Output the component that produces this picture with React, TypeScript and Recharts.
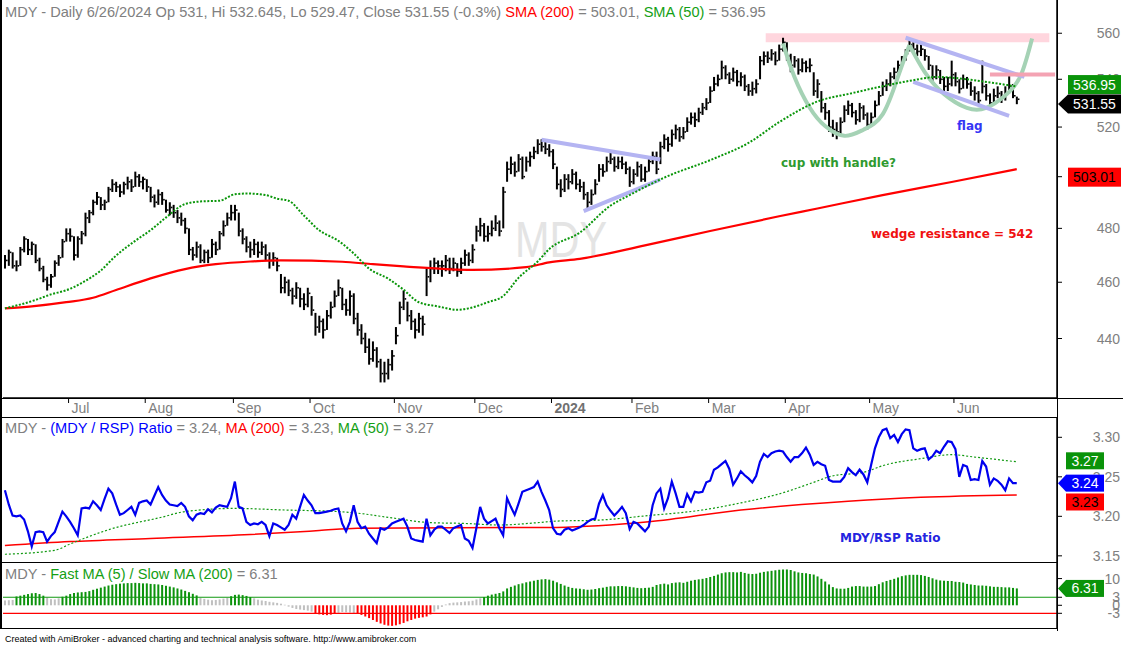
import React from 'react';
import { ComposedChart, Bar, Line, XAxis, YAxis, ReferenceLine, ReferenceArea } from 'recharts';

const FONT = '"Liberation Sans", Arial, sans-serif';
const NOTE_FONT = '"DejaVu Sans", Verdana, sans-serif';
const GREY = '#808080';
const GREEN = '#14a014';

// MDY daily bars, 6/7/2023 .. 6/26/2024 (index = trading day)
const closes = [
  468, 471, 466, 466, 472, 476, 472, 474, 468, 465,
  461, 459, 462, 467, 469, 475, 478, 477, 470, 476,
  478, 484, 486, 490, 492, 489, 490, 495, 497, 496,
  494, 497, 498, 496, 500, 498, 499, 496, 492, 490,
  493, 491, 487, 488, 486, 484, 483, 480, 472, 470,
  473, 468, 471, 469, 474, 472, 478, 481, 484, 486,
  487, 479, 476, 473, 472, 474, 471, 473, 470, 468,
  469, 466, 458, 460, 457, 455, 458, 454, 452, 456,
  450, 444, 446, 443, 448, 451, 455, 458, 452, 450,
  455, 447, 443, 440, 437, 433, 436, 432, 428, 428,
  431, 434, 441, 451, 454, 448, 446, 443, 447, 445,
  462, 465, 467, 466, 466, 468, 465, 467, 464, 467,
  470, 468, 472, 479, 481, 477, 478, 480, 482, 479,
  494, 503, 505, 502, 507, 500, 506, 508, 510, 513,
  512, 511, 510, 505, 497, 495, 499, 498, 501, 497,
  496, 493, 490, 493, 497, 503, 502, 506, 507, 504,
  506, 505, 503, 498, 501, 504, 499, 502, 506, 508,
  503, 512, 515, 513, 517, 519, 516, 518, 522, 524,
  523, 526, 528, 530, 535, 538, 540, 545, 542, 540,
  543, 539, 541, 537, 535, 536, 538, 548, 550, 549,
  551, 548, 553, 556, 550, 546, 548, 544, 547, 545,
  546, 535, 538, 528, 526, 520, 519, 518, 522, 527,
  529, 526, 523, 528, 525, 521, 524, 529, 533, 537,
  538, 541, 543, 546, 548, 551, 555, 553, 552, 553,
  550, 546, 541, 544, 540, 537, 538, 542, 539, 536,
  540, 538, 535, 534, 531, 537, 533, 530, 533, 534,
  532, 534, 537, 533, 531.55,
];

const highs = [
  470, 472, 471, 468, 473, 477, 476, 475, 474, 469,
  466, 462, 463, 468, 470, 476, 480, 480, 477, 477,
  479, 486, 487, 491, 494, 492, 491, 496, 499, 498,
  497, 498, 500, 499, 502, 501, 500, 499, 496, 493,
  495, 494, 491, 490, 489, 487, 486, 484, 480, 473,
  475, 474, 472, 472, 476, 475, 479, 483, 486, 489,
  489, 486, 480, 477, 475, 476, 475, 475, 474, 471,
  471, 469, 463, 462, 461, 458, 460, 458, 456, 458,
  455, 449, 448, 447, 450, 453, 457, 461, 458, 454,
  457, 456, 449, 445, 442, 440, 439, 437, 433, 432,
  433, 436, 444, 453, 457, 453, 450, 447, 449, 448,
  465, 468, 469, 468, 468, 470, 469, 469, 467, 469,
  472, 471, 474, 481, 484, 482, 481, 483, 485, 483,
  496, 506, 508, 506, 509, 508, 508, 510, 512, 515,
  515, 514, 513, 511, 504, 499, 501, 501, 503, 502,
  499, 498, 494, 495, 499, 505, 505, 508, 510, 508,
  508, 508, 506, 504, 503, 506, 505, 504, 508, 510,
  510, 514, 517, 516, 519, 521, 520, 520, 524, 526,
  526, 528, 530, 532, 537, 541, 542, 548, 546, 543,
  545, 544, 543, 542, 538, 539, 540, 550, 552, 552,
  553, 552, 555, 558, 556, 551, 550, 549, 549, 548,
  549, 543, 540, 535, 530, 527, 523, 522, 524, 529,
  531, 530, 527, 530, 529, 526, 526, 531, 535, 539,
  540, 543, 545, 548, 550, 553, 557, 556, 555, 555,
  553, 550, 546, 546, 544, 541, 541, 548, 543, 540,
  542, 541, 539, 537, 535, 548, 538, 534, 536, 537,
  535, 537, 542, 538, 532.645,
];

const lows = [
  465, 466, 465, 464, 466, 471, 470, 470, 467, 464,
  460, 457, 458, 462, 466, 469, 475, 475, 468, 469,
  474, 477, 482, 485, 489, 487, 487, 490, 494, 494,
  492, 493, 495, 494, 496, 496, 495, 494, 490, 488,
  489, 489, 486, 485, 484, 482, 481, 478, 470, 468,
  469, 467, 467, 467, 469, 470, 472, 477, 481, 483,
  483, 477, 474, 471, 469, 470, 469, 470, 468, 465,
  466, 464, 456, 456, 455, 452, 454, 451, 450, 451,
  448, 441, 442, 440, 443, 447, 451, 455, 450, 448,
  448, 445, 441, 438, 435, 431, 432, 430, 425, 425,
  426, 429, 438, 445, 450, 446, 443, 440, 442, 441,
  455, 460, 463, 463, 462, 464, 463, 464, 462, 463,
  466, 466, 467, 475, 477, 475, 475, 477, 479, 477,
  480, 498, 501, 500, 502, 499, 502, 504, 507, 509,
  510, 509, 508, 503, 495, 492, 494, 495, 497, 495,
  494, 491, 487, 489, 493, 498, 500, 502, 505, 502,
  503, 503, 501, 496, 497, 500, 498, 498, 502, 505,
  501, 505, 511, 510, 512, 515, 514, 515, 518, 521,
  520, 522, 525, 527, 530, 535, 537, 540, 540, 538,
  539, 537, 537, 535, 533, 533, 534, 540, 546, 547,
  548, 546, 548, 552, 548, 543, 545, 542, 543, 543,
  543, 533, 532, 526, 523, 518, 516, 515, 517, 522,
  525, 524, 521, 522, 523, 519, 520, 524, 529, 533,
  535, 537, 540, 543, 545, 548, 552, 551, 550, 550,
  548, 544, 539, 540, 538, 535, 535, 537, 537, 534,
  536, 536, 533, 531, 529, 534, 531, 528, 530, 532,
  530, 531, 534, 532, 529.47,
];

// MDY / RSP ratio
const ratio = [
  3.233, 3.215, 3.201, 3.200, 3.201, 3.196, 3.181, 3.162, 3.180, 3.181,
  3.180, 3.168, 3.175, 3.180, 3.193, 3.206, 3.200, 3.193, 3.185, 3.176,
  3.210, 3.211, 3.210, 3.219, 3.214, 3.208, 3.222, 3.235, 3.229, 3.215,
  3.202, 3.204, 3.208, 3.212, 3.202, 3.217, 3.219, 3.220, 3.215, 3.226,
  3.237, 3.227, 3.220, 3.215, 3.214, 3.213, 3.217, 3.212, 3.200, 3.195,
  3.202, 3.204, 3.203, 3.209, 3.205, 3.211, 3.214, 3.213, 3.212, 3.223,
  3.244, 3.212, 3.210, 3.193, 3.189, 3.191, 3.190, 3.193, 3.189, 3.175,
  3.191, 3.189, 3.186, 3.183, 3.189, 3.202, 3.197, 3.212, 3.227, 3.220,
  3.214, 3.204, 3.204, 3.205, 3.206, 3.207, 3.209, 3.210, 3.191, 3.181,
  3.193, 3.214, 3.193, 3.185, 3.187, 3.178, 3.172, 3.166, 3.185, 3.183,
  3.186, 3.191, 3.193, 3.195, 3.197, 3.187, 3.172, 3.170, 3.169, 3.168,
  3.197, 3.176, 3.183, 3.187, 3.187, 3.183, 3.179, 3.185, 3.187, 3.189,
  3.172, 3.169, 3.160, 3.185, 3.212, 3.197, 3.191, 3.194, 3.197, 3.185,
  3.176, 3.223, 3.212, 3.202, 3.216, 3.231, 3.233, 3.235, 3.237, 3.244,
  3.231, 3.220, 3.208, 3.185, 3.178, 3.177, 3.183, 3.185, 3.182, 3.184,
  3.186, 3.189, 3.193, 3.196, 3.197, 3.216, 3.227, 3.214, 3.207, 3.201,
  3.206, 3.212, 3.204, 3.184, 3.193, 3.191, 3.186, 3.181, 3.187, 3.214,
  3.229, 3.235, 3.210, 3.223, 3.244, 3.229, 3.212, 3.212, 3.228, 3.219,
  3.231, 3.230, 3.231, 3.243, 3.245, 3.259, 3.262, 3.266, 3.270, 3.260,
  3.240, 3.248, 3.257, 3.252, 3.248, 3.243, 3.251, 3.269, 3.279, 3.275,
  3.280, 3.282, 3.283, 3.282, 3.275, 3.269, 3.275, 3.275, 3.280, 3.287,
  3.278, 3.265, 3.269, 3.266, 3.264, 3.246, 3.244, 3.244, 3.244, 3.250,
  3.261, 3.256, 3.252, 3.259, 3.253, 3.243, 3.265, 3.286, 3.300, 3.309,
  3.311, 3.299, 3.303, 3.294, 3.304, 3.310, 3.309, 3.286, 3.283, 3.285,
  3.286, 3.272, 3.276, 3.283, 3.280, 3.288, 3.295, 3.294, 3.285, 3.250,
  3.265, 3.263, 3.246, 3.247, 3.246, 3.270, 3.263, 3.240, 3.248, 3.245,
  3.240, 3.233, 3.248, 3.242, 3.242,
];

// Fast MA(5) / Slow MA(200), percent
const fastSlow = [
  1.8, 1.9, 2.0, 3.3, 3.6, 3.9, 4.2, 4.5, 4.6, 4.2,
  3.6, 2.9, 2.3, 2.2, 2.6, 3.2, 3.6, 4.2, 4.6, 4.8,
  4.9, 5.0, 5.3, 5.8, 6.2, 6.6, 7.0, 7.4, 7.7, 7.9,
  8.1, 8.2, 8.3, 8.3, 8.4, 8.3, 8.2, 8.2, 8.0, 7.9,
  7.8, 7.6, 7.3, 7.0, 6.7, 6.3, 5.9, 5.4, 4.9, 4.3,
  3.7, 2.8, 2.4, 2.1, 1.9, 2.0, 2.2, 2.5, 2.8, 3.4,
  3.9, 4.0, 3.8, 3.5, 3.1, 2.6, 2.1, 1.8, 1.6, 1.3,
  1.1, 0.9, 0.6, 0.2, -0.5, -1.0, -1.4, -1.6, -1.8, -2.0,
  -2.4, -3.1, -3.4, -3.6, -3.7, -3.5, -3.2, -2.8, -2.5, -2.6,
  -2.7, -2.9, -3.2, -3.6, -4.2, -4.8, -5.5, -6.2, -6.8, -7.3,
  -7.6, -7.7, -7.5, -7.1, -6.6, -6.0, -5.5, -5.0, -4.7, -4.5,
  -4.2, -3.4, -2.4, -1.5, -0.6, 0.3, 0.8, 1.0, 1.1, 1.2,
  1.4, 1.5, 1.7, 2.2, 2.6, 3.1, 3.6, 4.0, 4.3, 4.6,
  5.2, 6.3, 6.9, 7.4, 7.9, 8.2, 8.6, 8.9, 9.2, 9.5,
  9.7, 9.8, 9.6, 9.2, 8.6, 8.0, 7.4, 6.9, 6.5, 6.3,
  6.2, 6.0, 5.8, 5.9, 6.1, 6.4, 6.6, 6.9, 7.1, 7.1,
  7.2, 7.2, 7.1, 6.9, 6.7, 6.5, 6.4, 6.5, 6.6, 6.9,
  7.6, 7.9, 8.1, 7.8, 8.3, 8.5, 8.6, 8.4, 8.8, 9.2,
  9.5, 9.7, 9.9, 10.2, 10.6, 11.0, 11.5, 12.0, 12.3, 12.4,
  12.4, 12.3, 12.5, 12.1, 11.8, 11.7, 11.8, 12.2, 12.5, 12.7,
  12.9, 13.1, 13.3, 13.4, 13.4, 13.2, 12.7, 12.3, 12.1, 12.0,
  11.7, 11.5, 10.8, 9.9, 8.9, 7.8, 6.8, 6.3, 6.2, 6.2,
  6.5, 7.0, 7.2, 7.2, 7.0, 7.0, 7.0, 7.2, 7.9, 8.6,
  9.1, 9.5, 9.9, 10.4, 10.9, 11.2, 11.4, 11.4, 11.4, 11.3,
  11.0, 10.6, 10.1, 9.6, 9.3, 9.2, 9.1, 9.1, 8.8, 8.7,
  8.5, 8.0, 7.8, 7.6, 7.4, 7.4, 7.3, 7.1, 6.9, 6.9,
  6.8, 6.7, 6.7, 6.5, 6.31,
];

// moving averages read at [bar, value]
const sma200 = [
  [0, 450.6], [7, 451.3], [16, 452.8], [23, 454.4], [29, 457.2], [38, 461.4], [47, 464.8],
  [55, 466.6], [64, 467.6], [72, 468.0], [88, 467.5], [96, 466.6], [104, 465.8], [122, 464.5],
  [136, 465.5], [142, 467.3], [150, 468.6], [167, 473.6], [184, 479.0], [202, 484.6],
  [212, 487.6], [229, 492.8], [247, 497.9], [264, 503.01],
];
const sma50 = [
  [0, 450.6], [8, 453.6], [12, 455.6], [16, 457.1], [20, 459.7], [25, 464.3], [29, 469.8],
  [34, 475.3], [38, 479.3], [42, 484.1], [47, 489.3], [51, 490.3], [56, 490.6], [60, 493.1],
  [63, 493.4], [68, 492.8], [71, 491.4], [74, 490.6], [78, 484.9], [82, 479.3], [87, 475.3],
  [91, 470.6], [95, 465.0], [100, 461.3], [104, 457.3], [108, 452.8], [113, 451.3],
  [118, 450.1], [121, 450.6], [126, 452.8], [130, 455.0], [134, 461.6], [139, 467.6],
  [142, 472.2], [150, 478.4], [158, 488.7], [163, 492.8], [172, 499.6], [185, 507.2],
  [194, 513.5], [202, 522.0], [212, 530.6], [221, 534.1], [230, 537.4], [237, 539.6],
  [243, 541.0], [252, 539.8], [258, 538.4], [264, 536.95],
];
const ratioMa200 = [
  [0, 3.163], [17, 3.168], [38, 3.172], [64, 3.177], [82, 3.182], [92, 3.185], [144, 3.186],
  [168, 3.193], [192, 3.208], [220, 3.219], [239, 3.224], [264, 3.227],
];
const ratioMa50 = [
  [0, 3.152], [13, 3.157], [17, 3.165], [27, 3.183], [41, 3.199], [47, 3.206], [60, 3.210],
  [73, 3.208], [87, 3.206], [92, 3.204], [101, 3.198], [111, 3.192], [120, 3.191],
  [129, 3.189], [139, 3.192], [144, 3.194], [154, 3.195], [168, 3.201], [182, 3.208],
  [192, 3.217], [201, 3.227], [211, 3.243], [215, 3.250], [225, 3.257], [229, 3.264],
  [239, 3.273], [247, 3.278], [253, 3.275], [264, 3.269],
];

// hand-drawn annotations, [bar, price]
const cupLeft = [[203, 555.5], [206, 541], [210, 528], [214, 520.4], [219, 516.4], [224, 518.9], [229, 525.2], [233, 541], [236, 554.8]];
const cupRight = [[236, 554.8], [240, 543.1], [245, 533.8], [251, 527.9], [256, 527.9], [261, 533.1], [265, 541.5], [268, 557.7]];
const triangleTop = [[140, 514.8], [171, 506.8]];
const triangleBottom = [[151, 486.6], [171, 498.9]];
const flagTop = [[235, 558], [266, 541]];
const flagBottom = [[237, 538.9], [262, 524.6]];
const wedgeLine = [[257, 542], [274, 542]];
const resistanceZone = [199, 272, 556, 560];

const monthStarts = [17, 37, 60, 80, 102, 123, 143, 164, 184, 204, 226, 248];
const monthNames = ['Jul', 'Aug', 'Sep', 'Oct', 'Nov', 'Dec', '2024', 'Feb', 'Mar', 'Apr', 'May', 'Jun'];
const priceTicks = [440, 460, 480, 500, 520, 540, 560];
const ratioTicks = [3.15, 3.2, 3.25, 3.3];
const oscTicks = [-3, 0, 3, 10];

const SLOTS = 275; // bars plus blank space on the right

const lookup = (pts: number[][]) => new Map(pts.map(([i, v]) => [i, v]));
const m200 = lookup(sma200);
const m50 = lookup(sma50);
const r200 = lookup(ratioMa200);
const r50 = lookup(ratioMa50);
const cupL = lookup(cupLeft);
const cupR = lookup(cupRight);

const rows = Array.from({ length: SLOTS }, (_, i) => {
  const has = i < closes.length;
  return {
    i,
    hl: has ? [lows[i], highs[i]] : null,
    close: has ? closes[i] : null,
    sma200: m200.get(i) ?? null,
    sma50: m50.get(i) ?? null,
    cupL: cupL.get(i) ?? null,
    cupR: cupR.get(i) ?? null,
    ratio: has ? ratio[i] : null,
    ratioMa200: r200.get(i) ?? null,
    ratioMa50: r50.get(i) ?? null,
    osc: has ? fastSlow[i] : null,
  };
});

const seg = (pts: number[][]) => pts.map(([x, y]) => ({ x, y }));

const OhlcShape = (p: any) => {
  const { x, y, width, height, payload } = p;
  if (!payload || !payload.hl) return null;
  const top = Math.min(y, y + height);
  const h = Math.max(Math.abs(height), 1);
  const [lo, hi] = payload.hl;
  const cy = hi > lo ? top + ((hi - payload.close) / (hi - lo)) * h : top;
  const cx = x + width / 2;
  return (
    <g>
      <rect x={cx - 1} y={top} width={2} height={h} fill="#000" />
      <rect x={cx + 1} y={cy - 0.8} width={1.6} height={1.6} fill="#000" />
    </g>
  );
};

const OscShape = (p: any) => {
  const { x, y, width, height, payload } = p;
  if (!payload || payload.osc == null) return null;
  const v = payload.osc;
  const top = Math.min(y, y + height);
  const fill = v >= 3 ? '#0c930c' : v <= -3 ? '#ff0000' : '#c0c0c0';
  return <rect x={x} y={top} width={width} height={Math.max(Math.abs(height), 0.6)} fill={fill} />;
};

const Tag = (p: any) => {
  const { viewBox, text, bg, fg, arrow, dy = 0, wide } = p;
  if (!viewBox) return null;
  const ax = viewBox.x + viewBox.width;
  const cy = viewBox.y + dy;
  const h = wide ? 19 : 17;
  const left = ax + (wide ? 11 : 9);
  const right = wide ? ax + 64 : ax + 47;
  return (
    <g>
      {arrow && <polygon points={`${ax + 1},${cy} ${left},${cy - h / 2} ${left},${cy + h / 2}`} fill={bg} />}
      <rect x={left} y={cy - h / 2} width={right - left} height={h} fill={bg} />
      <text x={(left + right) / 2} y={cy + 5} textAnchor="middle" fontSize={14} fill={fg} fontFamily={FONT}>
        {text}
      </text>
    </g>
  );
};

const RightTick = (p: any) => {
  const { y, payload, digits } = p;
  return (
    <text x={1120} y={y + 5} textAnchor="end" fontSize={14} fill={GREY} fontFamily={FONT}>
      {Number(payload.value).toFixed(digits)}
    </text>
  );
};

const DateTick = (p: any) => {
  const { x, payload } = p;
  const k = monthStarts.indexOf(payload.value);
  if (k < 0) return <g />;
  const bold = monthNames[k] === '2024';
  return (
    <g>
      <line x1={x - 1.5} x2={x - 1.5} y1={398} y2={403} stroke="#000" />
      <text x={x + 1.5} y={413} fontSize={14} fill={bold ? '#707070' : GREY} fontWeight={bold ? 700 : 400} fontFamily={FONT}>
        {monthNames[k]}
      </text>
    </g>
  );
};

const margin = { top: 0, right: 0, bottom: 0, left: 3 };
const tagMargin = { top: 0, right: 66, bottom: 0, left: 3 };
const axisLine = { stroke: '#000', strokeWidth: 1.5 };
const tickLine = { stroke: '#000' };

const PRICE_DOMAIN = [419.8, 574.9];
const RATIO_DOMAIN = [3.1422, 3.3257];
const OSC_DOMAIN = [-8.5, 16.2];

const PriceChart = () => (
  <ComposedChart width={1123} height={417} data={rows} margin={margin} barCategoryGap={0}>
    <XAxis dataKey="i" scale="band" interval={0} tick={<DateTick />} tickLine={false} axisLine={axisLine} height={19} />
    <YAxis
      orientation="right"
      width={66}
      scale="log"
      domain={PRICE_DOMAIN}
      allowDataOverflow
      ticks={priceTicks}
      interval={0}
      tick={<RightTick digits={0} />}
      axisLine={axisLine}
      tickLine={tickLine}
      tickSize={5}
    />
    <ReferenceArea
      x1={resistanceZone[0]}
      x2={resistanceZone[1]}
      y1={resistanceZone[2]}
      y2={resistanceZone[3]}
      fill="#ffd6de"
      fillOpacity={1}
      stroke="none"
      ifOverflow="visible"
    />
    <Line dataKey="cupL" type="natural" stroke="#a5d2b5" strokeWidth={4} dot={false} connectNulls isAnimationActive={false} />
    <Line dataKey="cupR" type="natural" stroke="#a5d2b5" strokeWidth={4} dot={false} connectNulls isAnimationActive={false} />
    <ReferenceLine segment={seg(triangleTop)} stroke="#b4b4f2" strokeWidth={4} ifOverflow="visible" />
    <ReferenceLine segment={seg(triangleBottom)} stroke="#b4b4f2" strokeWidth={4} ifOverflow="visible" />
    <ReferenceLine segment={seg(flagTop)} stroke="#b4b4f2" strokeWidth={4} ifOverflow="visible" />
    <ReferenceLine segment={seg(flagBottom)} stroke="#b4b4f2" strokeWidth={4} ifOverflow="visible" />
    <ReferenceLine segment={seg(wedgeLine)} stroke="#f4a3b3" strokeWidth={4} ifOverflow="visible" />
    <Bar dataKey="hl" barSize={2} shape={OhlcShape} isAnimationActive={false} />
    <Line dataKey="sma200" type="monotone" stroke="#ff0000" strokeWidth={2.2} dot={false} connectNulls isAnimationActive={false} />
    <Line dataKey="sma50" type="monotone" stroke="#0a960a" strokeWidth={2} strokeDasharray="2 1.6" dot={false} connectNulls isAnimationActive={false} />
  </ComposedChart>
);

// value tags drawn in a layer above the axis labels, on the same scales
const PriceTags = () => (
  <ComposedChart width={1123} height={417} data={rows} margin={tagMargin}>
    <XAxis dataKey="i" scale="band" hide height={19} />
    <YAxis hide scale="log" domain={PRICE_DOMAIN} allowDataOverflow />
    <ReferenceLine y={536.95} stroke="none" label={<Tag text="536.95" bg="#0a930a" fg="#fff" wide dy={-6} />} />
    <ReferenceLine y={531.55} stroke="none" label={<Tag text="531.55" bg="#000" fg="#fff" wide arrow />} />
    <ReferenceLine y={503.01} stroke="none" label={<Tag text="503.01" bg="#ff0000" fg="#000" wide />} />
  </ComposedChart>
);

const RatioChart = () => (
  <ComposedChart width={1123} height={145} data={rows} margin={margin}>
    <XAxis dataKey="i" scale="band" hide />
    <YAxis
      orientation="right"
      width={66}
      domain={RATIO_DOMAIN}
      allowDataOverflow
      ticks={ratioTicks}
      interval={0}
      tick={<RightTick digits={2} />}
      axisLine={axisLine}
      tickLine={tickLine}
      tickSize={5}
    />
    <Line dataKey="ratioMa200" type="monotone" stroke="#ff0000" strokeWidth={1.5} dot={false} connectNulls isAnimationActive={false} />
    <Line dataKey="ratioMa50" type="monotone" stroke="#119911" strokeWidth={1.2} strokeDasharray="2 2" dot={false} connectNulls isAnimationActive={false} />
    <Line dataKey="ratio" type="linear" stroke="#0000ee" strokeWidth={2.2} dot={false} isAnimationActive={false} />
  </ComposedChart>
);

const RatioTags = () => (
  <ComposedChart width={1123} height={145} data={rows} margin={tagMargin}>
    <XAxis dataKey="i" scale="band" hide />
    <YAxis hide domain={RATIO_DOMAIN} allowDataOverflow />
    <ReferenceLine y={3.269} stroke="none" label={<Tag text="3.27" bg="#0a930a" fg="#fff" dy={-1} />} />
    <ReferenceLine y={3.242} stroke="none" label={<Tag text="3.24" bg="#0000ff" fg="#fff" arrow />} />
    <ReferenceLine y={3.227} stroke="none" label={<Tag text="3.23" bg="#ff0000" fg="#000" dy={7} />} />
  </ComposedChart>
);

const OscChart = () => (
  <ComposedChart width={1123} height={66} data={rows} margin={margin} barCategoryGap={0}>
    <XAxis dataKey="i" scale="band" hide />
    <YAxis
      orientation="right"
      width={66}
      domain={OSC_DOMAIN}
      allowDataOverflow
      ticks={oscTicks}
      interval={0}
      tick={<RightTick digits={0} />}
      axisLine={axisLine}
      tickLine={tickLine}
      tickSize={5}
    />
    <ReferenceLine y={3} stroke="#119911" strokeWidth={1.2} />
    <ReferenceLine y={-3} stroke="#ff0000" strokeWidth={1.2} />
    <Bar dataKey="osc" barSize={2} shape={OscShape} isAnimationActive={false} />
  </ComposedChart>
);

const OscTags = () => (
  <ComposedChart width={1123} height={66} data={rows} margin={tagMargin}>
    <XAxis dataKey="i" scale="band" hide />
    <YAxis hide domain={OSC_DOMAIN} allowDataOverflow />
    <ReferenceLine y={6.31} stroke="none" label={<Tag text="6.31" bg="#0a930a" fg="#fff" arrow />} />
  </ComposedChart>
);

const abs = (left: number, top: number, extra: React.CSSProperties = {}): React.CSSProperties => ({
  position: 'absolute',
  left,
  top,
  ...extra,
});

const headerText = (size: number): React.CSSProperties => ({
  fontSize: size,
  fontFamily: FONT,
  color: GREY,
  whiteSpace: 'nowrap',
  lineHeight: '16px',
});

const noteText = (color: string): React.CSSProperties => ({
  fontSize: 12,
  fontWeight: 700,
  fontFamily: NOTE_FONT,
  color,
  whiteSpace: 'nowrap',
  lineHeight: '16px',
});

const hLine = (top: number, left: number, width: number) => (
  <div style={abs(left, top, { width, height: 1.5, background: '#000' })} />
);

export default function App() {
  return (
    <div style={abs(0, 0, { width: 1123, height: 645, background: '#fff', overflow: 'hidden' })}>
      <svg style={abs(0, 0)} width={1123} height={400}>
        <text x={515} y={257} fontSize={50} fill="#e4e4e4" fontFamily={FONT} textLength={92} lengthAdjust="spacingAndGlyphs">
          MDY
        </text>
      </svg>

      <div style={abs(0, 0)}>
        <PriceChart />
      </div>
      <div style={abs(0, 417)}>
        <RatioChart />
      </div>
      <div style={abs(0, 562)}>
        <OscChart />
      </div>
      <div style={abs(0, 0)}>
        <PriceTags />
      </div>
      <div style={abs(0, 417)}>
        <RatioTags />
      </div>
      <div style={abs(0, 562)}>
        <OscTags />
      </div>

      {hLine(397.5, 0, 1123)}
      {hLine(416.5, 0, 1057)}
      {hLine(561.5, 0, 1057)}
      {hLine(627.5, 0, 1057)}
      <div style={abs(0, 0, { width: 1.5, height: 629, background: '#000' })} />
      <div style={abs(1056.5, 0, { width: 1.5, height: 631, background: '#000' })} />

      <div style={abs(5, 4, headerText(14.6))}>
        MDY - Daily 6/26/2024 Op 531, Hi 532.645, Lo 529.47, Close 531.55 (-0.3%){' '}
        <span style={{ color: '#ff0000' }}>SMA (200)</span> = 503.01, <span style={{ color: GREEN }}>SMA (50)</span> = 536.95
      </div>
      <div style={abs(5, 420, headerText(14.6))}>
        MDY - <span style={{ color: '#0000ff' }}>(MDY / RSP) Ratio</span> = 3.24, <span style={{ color: '#ff0000' }}>MA (200)</span> = 3.23,{' '}
        <span style={{ color: GREEN }}>MA (50)</span> = 3.27
      </div>
      <div style={abs(5, 566, headerText(14.6))}>
        MDY - <span style={{ color: GREEN }}>Fast MA (5) / Slow MA (200)</span> = 6.31
      </div>

      <div style={abs(781, 155, noteText('#2f9a2f'))}>cup with handle?</div>
      <div style={abs(957, 118, noteText('#3535f5'))}>flag</div>
      <div style={abs(871, 226, noteText('#f01010'))}>wedge resistance = 542</div>
      <div style={abs(840, 530, noteText('#2424e0'))}>MDY/RSP Ratio</div>

      <div style={abs(5, 633, { fontSize: 9, fontFamily: FONT, color: '#000', whiteSpace: 'nowrap', lineHeight: '12px' })}>
        Created with AmiBroker - advanced charting and technical analysis software. http://www.amibroker.com
      </div>
    </div>
  );
}
